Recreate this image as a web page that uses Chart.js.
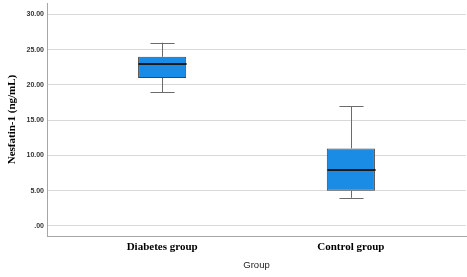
<!DOCTYPE html>
<html>
<head>
<meta charset="utf-8">
<script src="https://cdn.jsdelivr.net/npm/chart.js@4"></script>
<style>
    html, body { margin: 0; padding: 0; background: #fff; }
    #wrap { width: 467px; height: 277px; }
</style>
</head>
<body>
<div id="wrap"><canvas id="grafica"></canvas></div>
<script>
// datos
const grupos = ['Diabetes group', 'Control group']
const bigoteInf = [19, 4]
const q1 = [21, 5]
const medianas = [23, 8]
const q3 = [24, 11]
const bigoteSup = [26, 17]
const ticksY = [0, 5, 10, 15, 20, 25, 30]


// dibuja bigotes y mediana encima de las cajas
const bigotes = {
    id: 'bigotes',
    afterDatasetsDraw(chart) {
        const ctx = chart.ctx
        const y = chart.scales.y
        const meta = chart.getDatasetMeta(0)
        meta.data.forEach((barra, i) => {
            const cx = Math.round(barra.x) + 0.5
            const mitad = barra.width / 2
            ctx.save()
            ctx.strokeStyle = '#6b6b6b'
            ctx.lineWidth = 1
            ctx.beginPath()
            ctx.moveTo(cx, y.getPixelForValue(q3[i]))
            ctx.lineTo(cx, y.getPixelForValue(bigoteSup[i]))
            ctx.moveTo(cx, y.getPixelForValue(q1[i]))
            ctx.lineTo(cx, y.getPixelForValue(bigoteInf[i]))
            ctx.moveTo(cx - mitad / 2, Math.round(y.getPixelForValue(bigoteSup[i])) + 0.5)
            ctx.lineTo(cx + mitad / 2, Math.round(y.getPixelForValue(bigoteSup[i])) + 0.5)
            ctx.moveTo(cx - mitad / 2, Math.round(y.getPixelForValue(bigoteInf[i])) + 0.5)
            ctx.lineTo(cx + mitad / 2, Math.round(y.getPixelForValue(bigoteInf[i])) + 0.5)
            ctx.stroke()
            ctx.strokeStyle = '#1b1b1b'
            ctx.lineWidth = 2
            ctx.beginPath()
            ctx.moveTo(cx - mitad, Math.round(y.getPixelForValue(medianas[i])))
            ctx.lineTo(cx + mitad, Math.round(y.getPixelForValue(medianas[i])))
            ctx.stroke()
            ctx.restore()
        })
    }
}

const grafica = document.getElementById('grafica').getContext('2d');

new Chart(grafica, {
    type: 'bar',
    data: {
        datasets: [{
            data: grupos.map((g, i) => ({ x: i, y: [q1[i], q3[i]] })),
            backgroundColor: '#1a8ce6',
            borderColor: '#454545',
            borderWidth: 1,
            borderSkipped: false,
            barPercentage: 0.255,
            categoryPercentage: 1
        }]
    },
    options: {
        responsive: true,
        maintainAspectRatio: false,
        animation: false,
        layout: { padding: { top: 3, right: 1, left: 0, bottom: 0 } },
        scales: {
            x: {
                type: 'linear',
                offset: false,
                min: -0.61,
                max: 1.61,
                afterFit: (s) => { s.height = 41 },
                afterBuildTicks: (s) => { s.ticks = grupos.map((g, i) => ({ value: i })) },
                grid: { display: false, drawTicks: false },
                border: { color: '#a6a6a6' },
                ticks: {
                    padding: 5,
                    color: '#000',
                    font: { family: 'Liberation Serif', weight: 'bold', size: 11 },
                    callback: (v) => grupos[v]
                },
                title: {
                    display: true,
                    text: 'Group',
                    color: '#222',
                    padding: { top: 2, bottom: 6 },
                    font: { family: 'Liberation Sans', size: 9.5 }
                }
            },
            y: {
                min: -1.42,
                max: 31.63,
                afterFit: (s) => { s.width = 47; s.paddingTop = 0 },
                afterBuildTicks: (s) => { s.ticks = ticksY.map(v => ({ value: v })) },
                grid: { color: '#d9d9d9', drawTicks: false },
                border: { color: '#a6a6a6' },
                ticks: {
                    padding: 3,
                    color: '#333',
                    font: { family: 'Liberation Sans', weight: 'bold', size: 7 },
                    callback: (v) => v === 0 ? '.00' : v.toFixed(2)
                },
                title: {
                    display: true,
                    text: 'Nesfatin-1 (ng/mL)',
                    color: '#000',
                    padding: { top: 6, bottom: 4 },
                    font: { family: 'Liberation Serif', weight: 'bold', size: 11 }
                }
            }
        },
        plugins: {
            legend: { display: false },
            tooltip: { enabled: false }
        }
    },
    plugins: [bigotes]
});
</script>
</body>
</html>
